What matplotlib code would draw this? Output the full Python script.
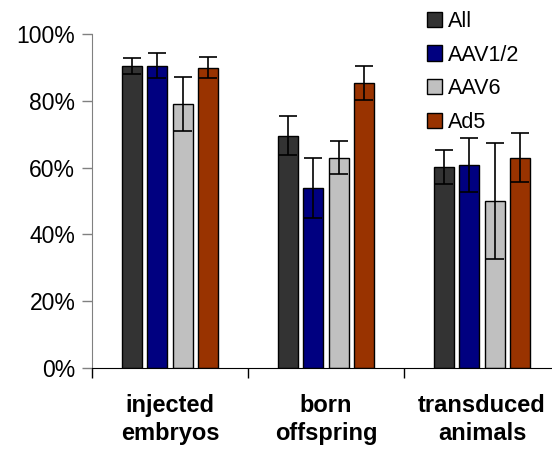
import numpy as np
import matplotlib.pyplot as plt
import matplotlib.ticker as ticker

plt.rcParams['font.family'] = ['Liberation Sans', 'DejaVu Sans']

categories = ['injected\nembryos', 'born\noffspring', 'transduced\nanimals']
series = ['All', 'AAV1/2', 'AAV6', 'Ad5']
colors = ['#333333', '#000080', '#C0C0C0', '#993300']

values = {
    'All':    [90.5, 69.6, 60.2],
    'AAV1/2': [90.5, 53.9, 60.8],
    'AAV6':   [79.1, 63.0, 50.0],
    'Ad5':    [89.9, 85.3, 63.0],
}
errors = {
    'All':    [2.4, 5.8, 5.2],
    'AAV1/2': [3.7, 9.1, 8.2],
    'AAV6':   [8.1, 5.0, 17.4],
    'Ad5':    [3.2, 5.0, 7.4],
}

fig = plt.figure(figsize=(5.52, 4.49), dpi=100)
ax = fig.add_axes([92 / 552, 81 / 449, 468 / 552, 334 / 449])

x = np.arange(len(categories))
step = 0.163
width = 0.128
for i, s in enumerate(series):
    pos = x + (i - 1.5) * step
    ax.bar(pos, values[s], width, color=colors[i], edgecolor='black',
           linewidth=1.0, label=s, zorder=2)
    ax.errorbar(pos, values[s], yerr=errors[s], fmt='none', ecolor='black',
                elinewidth=1.2, capsize=6.5, capthick=1.2, zorder=3)

ax.set_xlim(-0.5, 2.5)
ax.set_ylim(0, 100)
ax.yaxis.set_major_locator(ticker.MultipleLocator(20))
ax.yaxis.set_major_formatter(ticker.FuncFormatter(lambda v, p: '%d%%' % v))

ax.set_xticks([-0.5, 0.5, 1.5, 2.5])
ax.set_xticklabels([])
ax.set_xticks(x, minor=True)
ax.set_xticklabels(categories, minor=True, fontsize=17, fontweight='bold',
                   linespacing=1.25)
ax.tick_params(axis='x', which='major', length=7, width=1, direction='out')
ax.tick_params(axis='x', which='minor', length=0, pad=19)
ax.tick_params(axis='y', length=7, width=1, labelsize=16.5, pad=5,
               color='#808080')

for sp in ['top', 'right']:
    ax.spines[sp].set_visible(False)
ax.spines['left'].set_color('#808080')
ax.spines['bottom'].set_color('black')

ax.legend(loc='upper left', bbox_to_anchor=(418 / 552, 1 - 2 / 449),
          bbox_transform=fig.transFigure, frameon=False, fontsize=15.5,
          handlelength=0.7, handleheight=0.7, handletextpad=0.3,
          labelspacing=0.6, borderaxespad=0)

fig.savefig('out.png', dpi=100)
